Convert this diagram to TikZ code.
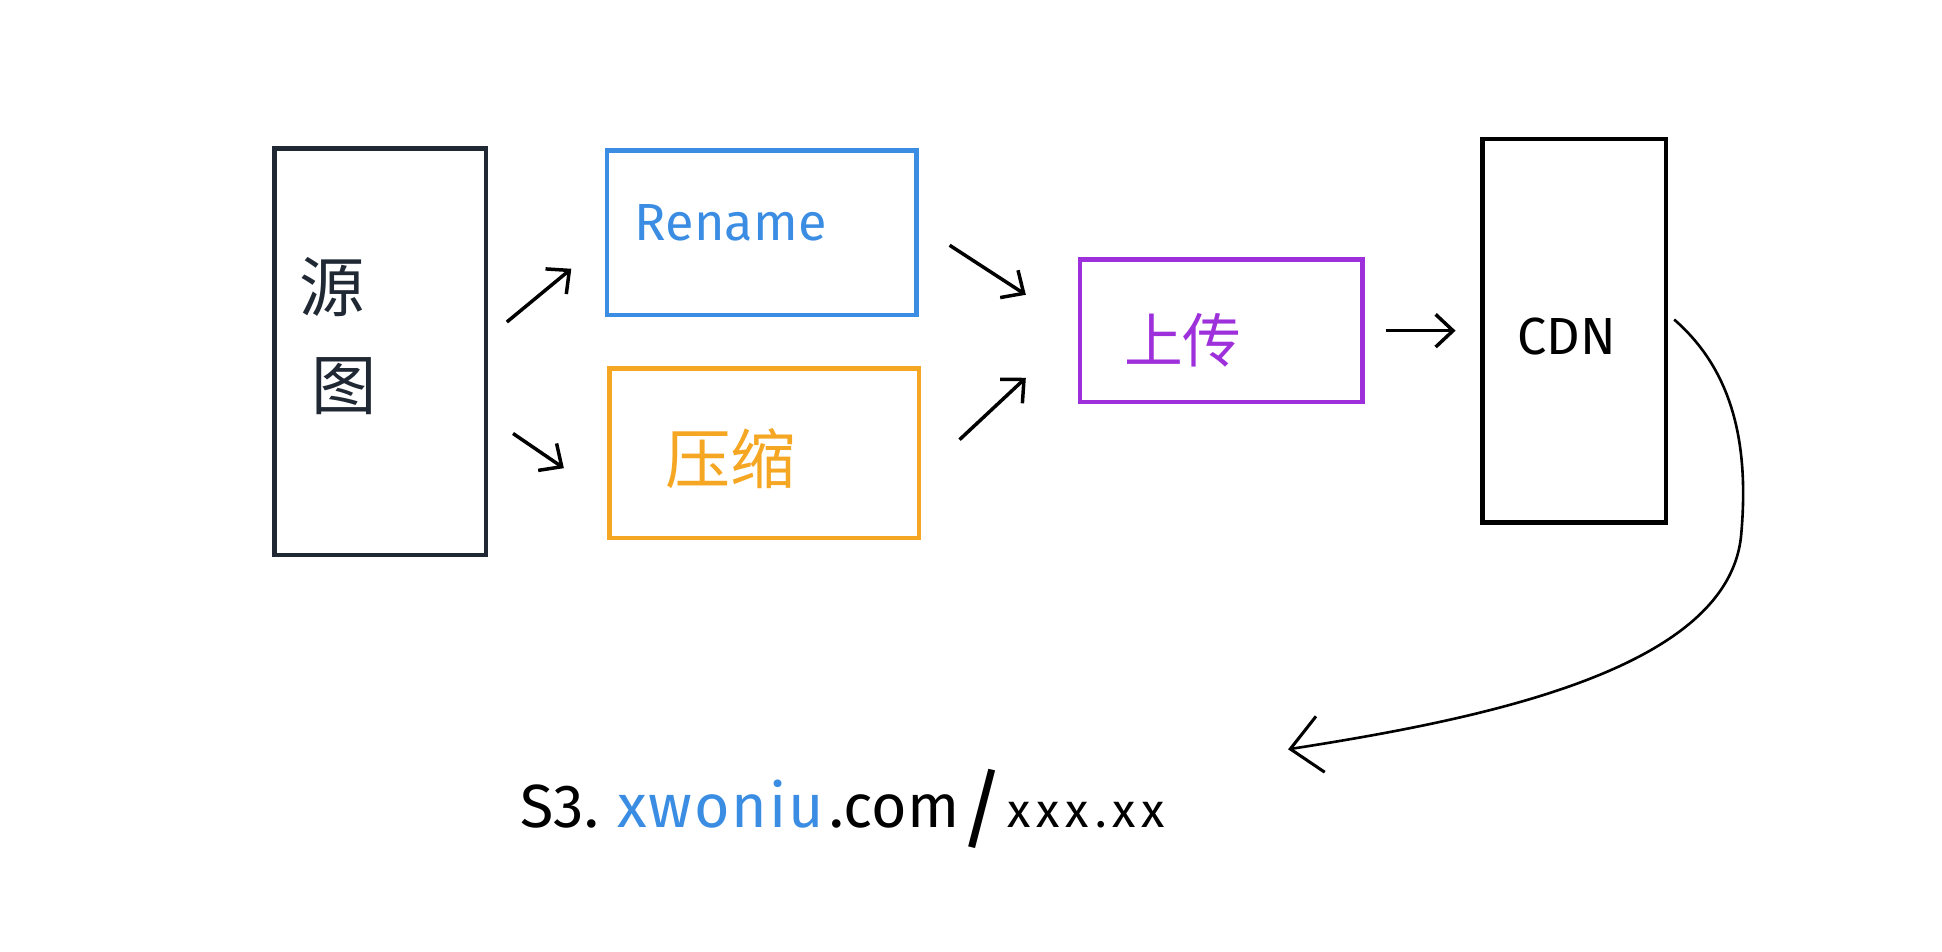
\documentclass[tikz,border=0pt]{standalone}
\usepackage{fontspec}
\setmainfont{Fira Sans}
\newfontfamily\cjk{Noto Sans CJK SC}
\usetikzlibrary{arrows.meta,calc}
\definecolor{inkblue}{RGB}{58,141,226}
\definecolor{inkorange}{RGB}{245,166,35}
\definecolor{inkpurple}{RGB}{158,48,220}
\definecolor{inknavy}{RGB}{32,40,52}
\tikzset{
    pbox/.style ={
        shape=rectangle,
        draw=black,
        line width=2pt,
        inner sep=0pt
    },
    word/.style ={
        font=\fontsize{24}{28}\selectfont,
        inner sep=0pt
    },
    hanzi/.style ={
        font=\cjk\fontsize{30}{34}\selectfont,
        inner sep=0pt
    },
    arr/.style ={
        -{Straight Barb[length=8pt,width=15pt,line width=1.6pt]},
        line width=1.6pt
    }
}

\begin{document}
\begin{tikzpicture}[x=0.02cm,y=-0.02cm]
    \useasboundingbox (0,0) rectangle (1568,768);
    % boxes
    \node[pbox,draw=inknavy,minimum width=3.42cm,minimum height=6.56cm] (src) at(307,284) {};
    \node[pbox,draw=inkblue,minimum width=5cm,minimum height=2.66cm] (rename) at(615,188) {};
    \node[pbox,draw=inkorange,minimum width=5cm,minimum height=2.74cm] (compress) at(617,366) {};
    \node[pbox,draw=inkpurple,minimum width=4.56cm,minimum height=2.3cm] (upload) at(986,267) {};
    \node[pbox,minimum width=2.96cm,minimum height=6.2cm] (cdn) at(1271,267) {};
    % texts
    \node[hanzi,text=inknavy] (yuan) at(268,232) {源};
    \node[hanzi,text=inknavy] (tu) at(278,312) {图};
    \node[word,text=inkblue] (renametxt) at(590,180) {Rename};
    \node[hanzi,text=inkorange] (yasuo) at(590,370) {压缩};
    \node[hanzi,text=inkpurple,font=\cjk\fontsize{27}{30}\selectfont] (shangchuan) at(955,275) {上传};
    \node[word] (cdntxt) at(1265,272) {CDN};
    \node[word,font=\fontsize{28}{32}\selectfont,anchor=base west] (url) at(420,668)
        {S3.\hspace{0.3cm}{\color{inkblue}\addfontfeature{LetterSpace=3}xwoniu}\hspace{0.1cm}.com{\fontsize{40}{42}\selectfont\addfontfeature{FakeBold=-0.4}\raisebox{-0.2cm}{/}}\hspace{0.05cm}{\fontsize{22}{26}\selectfont\addfontfeature{LetterSpace=12}xxx.xx}};
    \coordinate (urlend) at(1040,605);
    % arrows
    \draw[arr] ([shift={(15,-24)}]src.east) -- ([shift={(-27,29)}]rename.west);
    \draw[arr] ([shift={(20,66)}]src.east) -- ([shift={(-35,12)}]compress.west);
    \draw[arr] ([shift={(25,10)}]rename.east) -- ([shift={(-42,-29)}]upload.west);
    \draw[arr] ([shift={(31,-11)}]compress.east) -- ([shift={(-42,38)}]upload.west);
    \draw[arr] ([xshift=0.34cm]upload.east) -- ([xshift=-0.4cm]cdn.west);
    \draw[-{Straight Barb[length=14pt,width=26pt,line width=1.4pt]},line width=1.2pt]
        ([shift={(5,-9)}]cdn.east) .. controls (1400,300) and (1412,360) .. (1406,430)
        .. controls (1398,540) and (1200,580) .. (urlend);
\end{tikzpicture}
\end{document}
